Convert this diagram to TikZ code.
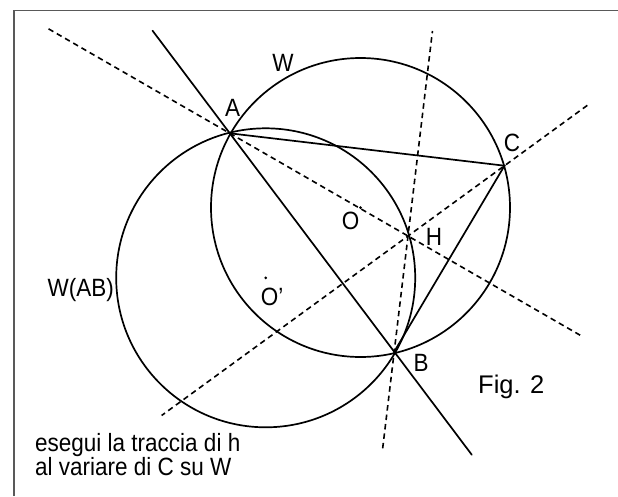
\documentclass[tikz,border=0pt]{standalone}
\usepackage{fontspec}
\setmainfont{Liberation Sans}[FakeStretch=0.9]
\newfontfamily\figfont{Liberation Sans}
\usetikzlibrary{calc}

\begin{document}
\begin{tikzpicture}[
    x=1pt, y=-1pt,
    seg/.style={line width=1.7pt, line cap=round},
    aux/.style={line width=1.6pt, dash pattern=on 5.5pt off 4pt},
    frame/.style={line width=1.3pt, draw=black!65},
    lbl/.style={font=\fontsize{25}{24.3}\selectfont, inner sep=0pt},
    ctr/.style={circle, fill, inner sep=0pt, minimum size=3pt},
]
\useasboundingbox (0,0) rectangle (618,496);
\draw[frame] (14,496) -- (14,10.5) -- (618,10.5);

% triangle vertices and orthocentre
\coordinate (A) at (229.8,133.3);
\coordinate (B) at (394.2,351.7);
\coordinate (C) at (504.5,165.7);
\coordinate (H) at (408,236);
\node[ctr] (O) at (360.5,207.5) {};
\node[ctr] (O2) at (265.7,277.8) {};

% circles W and W(AB)
\draw[seg] (O.center) circle[radius=149.5];
\draw[seg] (O2.center) circle[radius=149.5];

% sides
\draw[seg] ($(A)!-0.47!(B)$) -- ($(A)!1.472!(B)$);
\draw[seg] (A) -- (C) -- (B);

% altitudes through H
\draw[aux] ($(A)!-1.017!(H)$) -- ($(A)!1.968!(H)$);
\draw[aux] ($(C)!-0.858!(H)$) -- ($(C)!3.553!(H)$);
\draw[aux] ($(B)!-0.835!(H)$) -- ($(B)!2.772!(H)$);

% labels
\node[lbl] (lW) at (283,63.3) {W};
\node[lbl] (lA) at (232.5,108.3) {A};
\node[lbl] (lC) at (512,143) {C};
\node[lbl] (lH) at (434,237.3) {H};
\node[lbl] (lO) at (350.7,220.5) {O};
\node[lbl] (lB) at (421,363) {B};
\node[lbl] (lO2) at (272,297) {O’};
\node[lbl, anchor=base west] (lWAB) at (47.5,296.7) {W(AB)};
\node[lbl, anchor=base west, font=\figfont\fontsize{25.5}{30}\selectfont] (fig) at (478,393.3) {Fig. 2};
\node[lbl, anchor=north west, align=left] (note) at (35,433) {esegui la traccia di h\\al variare di C su W};
\end{tikzpicture}
\end{document}
